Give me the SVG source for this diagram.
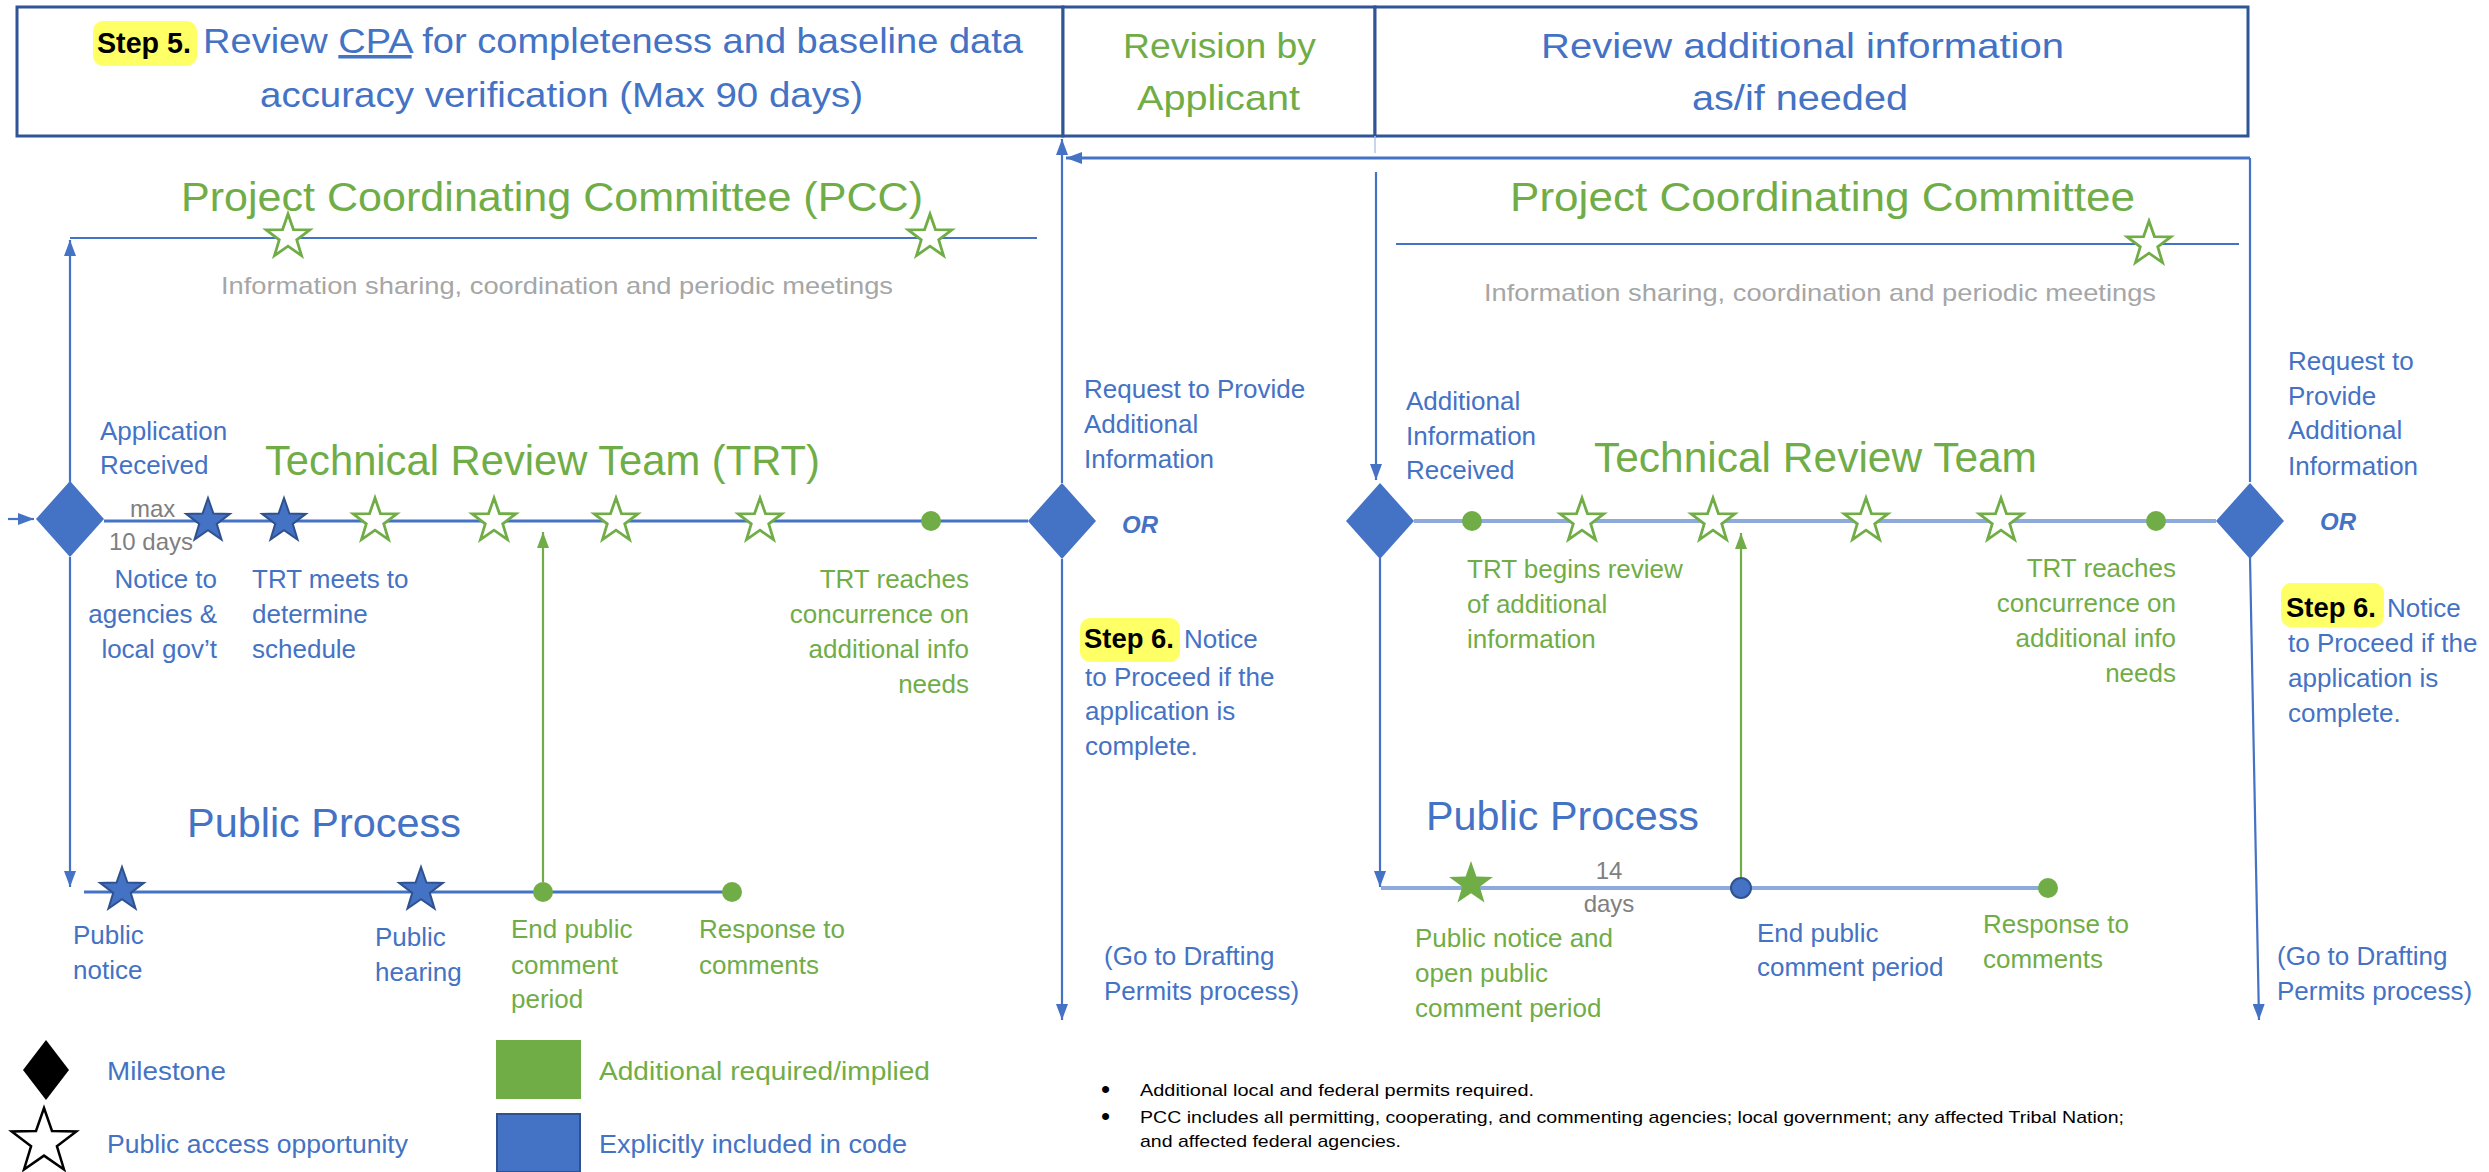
<svg xmlns="http://www.w3.org/2000/svg" width="2489" height="1172" viewBox="0 0 2489 1172">
<style>
text{font-family:"Liberation Sans",Arial,sans-serif}
.b{fill:#4472c4}.g{fill:#70ad47}.gr{fill:#a6a6a6}.dg{fill:#7f7f7f}.k{fill:#000}
.s26{font-size:26px}.s24{font-size:24px}.s35{font-size:35px}.s41{font-size:41px}
.box{fill:#fff;stroke:#2f5597;stroke-width:3}
.ln{fill:none;stroke:#4472c4;stroke-width:2.2}
.lnt{fill:none;stroke:#4472c4;stroke-width:3}
.lnl{fill:none;stroke:#8eaadb;stroke-width:4}
.lng{fill:none;stroke:#70ad47;stroke-width:2.2}
.dia{fill:#4472c4}
.sg{fill:#fff;stroke:#70ad47;stroke-width:2.8}
.sb{fill:#4472c4;stroke:#2f528f;stroke-width:2}
.dot{fill:#70ad47}
.hl{fill:#ffff66}
</style>
<defs>
<marker id="ab" markerUnits="userSpaceOnUse" markerWidth="18" markerHeight="12" refX="16" refY="6" orient="auto"><path d="M0,0 L16,6 L0,12 z" fill="#4472c4"/></marker>
<marker id="ag" markerUnits="userSpaceOnUse" markerWidth="18" markerHeight="12" refX="16" refY="6" orient="auto"><path d="M0,0 L16,6 L0,12 z" fill="#70ad47"/></marker>
<path id="star" d="M0,-23 L5.41,-7.45 L21.87,-7.11 L8.74,2.85 L13.52,18.61 L0,9.2 L-13.52,18.61 L-8.74,2.85 L-21.87,-7.11 L-5.41,-7.45 Z"/>
<path id="dm" d="M0,-38 L34,0 L0,38 L-34,0 Z"/>
</defs>

<g id="headers">
<rect class="box" x="17" y="7" width="1046" height="129"/>
<rect class="box" x="1063" y="7" width="312" height="129"/>
<rect class="box" x="1375" y="7" width="873" height="129"/>
<rect class="hl" x="93" y="21" width="104" height="45" rx="10"/>
<text class="k" x="97" y="53" font-size="30" font-weight="bold" textLength="94" lengthAdjust="spacingAndGlyphs">Step 5.</text>
<text class="b s35" x="203" y="53" textLength="820" lengthAdjust="spacingAndGlyphs">Review <tspan text-decoration="underline">CPA</tspan> for completeness and baseline data</text>
<text class="b s35" x="260" y="107" textLength="603" lengthAdjust="spacingAndGlyphs">accuracy verification (Max 90 days)</text>
<text class="g s35" x="1123" y="58" textLength="193" lengthAdjust="spacingAndGlyphs">Revision by</text>
<text class="g s35" x="1137" y="110" textLength="163" lengthAdjust="spacingAndGlyphs">Applicant</text>
<text class="b s35" x="1541" y="58" textLength="523" lengthAdjust="spacingAndGlyphs">Review additional information</text>
<text class="b s35" x="1692" y="110" textLength="216" lengthAdjust="spacingAndGlyphs">as/if needed</text>
</g>

<g id="connectors">
<path class="ln" d="M8,519 H34" marker-end="url(#ab)"/>
<path class="ln" d="M70,483 V240" marker-end="url(#ab)"/>
<path class="ln" d="M70,238 H1037"/>
<path class="ln" d="M70,557 V887" marker-end="url(#ab)"/>
<path class="lnt" d="M84,892 H732"/>
<path class="lnt" d="M104,521 H1028"/>
<path class="lng" d="M543,882 V532" marker-end="url(#ag)"/>
<path class="ln" d="M1062,483 V139" marker-end="url(#ab)"/>
<path class="lnt" d="M2250,158 H1066" marker-end="url(#ab)"/>
<path class="ln" d="M1062,559 V1020" marker-end="url(#ab)"/>
<path class="ln" d="M2250,482 V158"/>
<path class="ln" d="M1376,172 V480" marker-end="url(#ab)"/>
<path d="M1375,136 V153" stroke="#b4c7e7" stroke-width="1.5"/>
<path class="ln" d="M1380,558 V887" marker-end="url(#ab)"/>
<path class="ln" d="M1396,244 H2239"/>
<path class="lnl" d="M1414,521 H2216"/>
<path class="lnl" d="M1381,888 H2048"/>
<path class="lng" d="M1741,878 V533" marker-end="url(#ag)"/>
<path class="ln" d="M2250,558 L2259,1020" marker-end="url(#ab)"/>
</g>

<g id="milestones">
<use href="#dm" class="dia" x="70" y="519"/>
<use href="#dm" class="dia" x="1062" y="521"/>
<use href="#dm" class="dia" x="1380" y="521"/>
<use href="#dm" class="dia" x="2250" y="521"/>
</g>

<g id="pcc-left">
<text class="g s41" x="181" y="211" textLength="742" lengthAdjust="spacingAndGlyphs">Project Coordinating Committee (PCC)</text>
<use href="#star" class="sg" x="288" y="237"/>
<use href="#star" class="sg" x="930" y="237"/>
<text class="gr s24" x="221" y="294" textLength="672" lengthAdjust="spacingAndGlyphs">Information sharing, coordination and periodic meetings</text>
</g>

<g id="pcc-right">
<text class="g s41" x="1510" y="211" textLength="625" lengthAdjust="spacingAndGlyphs">Project Coordinating Committee</text>
<use href="#star" class="sg" x="2149" y="244"/>
<text class="gr s24" x="1484" y="301" textLength="672" lengthAdjust="spacingAndGlyphs">Information sharing, coordination and periodic meetings</text>
</g>

<g id="trt-left">
<text class="g" x="265" y="475" font-size="42" textLength="555" lengthAdjust="spacingAndGlyphs">Technical Review Team (TRT)</text>
<text class="b s26" x="100" y="440">Application</text>
<text class="b s26" x="100" y="474">Received</text>
<text class="dg s24" x="130" y="517">max</text>
<text class="dg s24" x="109" y="550">10 days</text>
<use href="#star" class="sb" x="208" y="521"/>
<use href="#star" class="sb" x="284" y="521"/>
<use href="#star" class="sg" x="375" y="521"/>
<use href="#star" class="sg" x="494" y="521"/>
<use href="#star" class="sg" x="616" y="521"/>
<use href="#star" class="sg" x="760" y="521"/>
<circle class="dot" cx="931" cy="521" r="10"/>
<text class="b s26" text-anchor="end"><tspan x="217" y="588">Notice to</tspan><tspan x="217" y="623">agencies &amp;</tspan><tspan x="217" y="658">local gov’t</tspan></text>
<text class="b s26"><tspan x="252" y="588">TRT meets to</tspan><tspan x="252" y="623">determine</tspan><tspan x="252" y="658">schedule</tspan></text>
<text class="g s26" text-anchor="end"><tspan x="969" y="588">TRT reaches</tspan><tspan x="969" y="623">concurrence on</tspan><tspan x="969" y="658">additional info</tspan><tspan x="969" y="693">needs</tspan></text>
</g>

<g id="decision-left">
<text class="b s26"><tspan x="1084" y="398">Request to Provide</tspan><tspan x="1084" y="433">Additional</tspan><tspan x="1084" y="468">Information</tspan></text>
<text class="b s24" x="1122" y="533" font-weight="bold" font-style="italic">OR</text>
<rect class="hl" x="1080" y="618" width="100" height="44" rx="10"/>
<text class="k" x="1084" y="648" font-size="28" font-weight="bold" textLength="90" lengthAdjust="spacingAndGlyphs">Step 6.</text>
<text class="b s26" x="1184" y="648">Notice</text>
<text class="b s26"><tspan x="1085" y="686">to Proceed if the</tspan><tspan x="1085" y="720">application is</tspan><tspan x="1085" y="755">complete.</tspan></text>
<text class="b s26"><tspan x="1104" y="965">(Go to Drafting</tspan><tspan x="1104" y="1000">Permits process)</tspan></text>
</g>

<g id="public-left">
<text class="b s41" x="187" y="837" textLength="274" lengthAdjust="spacingAndGlyphs">Public Process</text>
<use href="#star" class="sb" x="122" y="890"/>
<use href="#star" class="sb" x="421" y="890"/>
<circle class="dot" cx="543" cy="892" r="10"/>
<circle class="dot" cx="732" cy="892" r="10"/>
<text class="b s26"><tspan x="73" y="944">Public</tspan><tspan x="73" y="979">notice</tspan></text>
<text class="b s26"><tspan x="375" y="946">Public</tspan><tspan x="375" y="981">hearing</tspan></text>
<text class="g s26"><tspan x="511" y="938">End public</tspan><tspan x="511" y="974">comment</tspan><tspan x="511" y="1008">period</tspan></text>
<text class="g s26"><tspan x="699" y="938">Response to</tspan><tspan x="699" y="974">comments</tspan></text>
</g>

<g id="trt-right">
<text class="g" x="1594" y="472" font-size="42" textLength="443" lengthAdjust="spacingAndGlyphs">Technical Review Team</text>
<text class="b s26"><tspan x="1406" y="410">Additional</tspan><tspan x="1406" y="445">Information</tspan><tspan x="1406" y="479">Received</tspan></text>
<circle class="dot" cx="1472" cy="521" r="10"/>
<use href="#star" class="sg" x="1582" y="521"/>
<use href="#star" class="sg" x="1713" y="521"/>
<use href="#star" class="sg" x="1866" y="521"/>
<use href="#star" class="sg" x="2001" y="521"/>
<circle class="dot" cx="2156" cy="521" r="10"/>
<text class="g s26"><tspan x="1467" y="578">TRT begins review</tspan><tspan x="1467" y="613">of additional</tspan><tspan x="1467" y="648">information</tspan></text>
<text class="g s26" text-anchor="end"><tspan x="2176" y="577">TRT reaches</tspan><tspan x="2176" y="612">concurrence on</tspan><tspan x="2176" y="647">additional info</tspan><tspan x="2176" y="682">needs</tspan></text>
</g>

<g id="decision-right">
<text class="b s26"><tspan x="2288" y="370">Request to</tspan><tspan x="2288" y="405">Provide</tspan><tspan x="2288" y="439">Additional</tspan><tspan x="2288" y="475">Information</tspan></text>
<text class="b s24" x="2320" y="530" font-weight="bold" font-style="italic">OR</text>
<rect class="hl" x="2281" y="583" width="103" height="44" rx="10"/>
<text class="k" x="2286" y="617" font-size="28" font-weight="bold" textLength="90" lengthAdjust="spacingAndGlyphs">Step 6.</text>
<text class="b s26" x="2387" y="617">Notice</text>
<text class="b s26"><tspan x="2288" y="652">to Proceed if the</tspan><tspan x="2288" y="687">application is</tspan><tspan x="2288" y="722">complete.</tspan></text>
<text class="b s26"><tspan x="2277" y="965">(Go to Drafting</tspan><tspan x="2277" y="1000">Permits process)</tspan></text>
</g>

<g id="public-right">
<text class="b s41" x="1426" y="830" textLength="273" lengthAdjust="spacingAndGlyphs">Public Process</text>
<use href="#star" fill="#70ad47" x="1471" y="884"/>
<circle cx="1741" cy="888" r="10" fill="#4472c4" stroke="#2f528f" stroke-width="2"/>
<circle class="dot" cx="2048" cy="888" r="10"/>
<text class="dg s24" text-anchor="middle"><tspan x="1609" y="879">14</tspan><tspan x="1609" y="912">days</tspan></text>
<text class="g s26"><tspan x="1415" y="947">Public notice and</tspan><tspan x="1415" y="982">open public</tspan><tspan x="1415" y="1017">comment period</tspan></text>
<text class="b s26"><tspan x="1757" y="942">End public</tspan><tspan x="1757" y="976">comment period</tspan></text>
<text class="g s26"><tspan x="1983" y="933">Response to</tspan><tspan x="1983" y="968">comments</tspan></text>
</g>

<g id="legend">
<path d="M46,1040 L69,1070 L46,1100 L23,1070 Z" fill="#000"/>
<text class="b s26" x="107" y="1080" textLength="119" lengthAdjust="spacingAndGlyphs">Milestone</text>
<path d="M0,-34 L8,-11 L32.3,-10.5 L12.9,4.2 L20,27.5 L0,13.6 L-20,27.5 L-12.9,4.2 L-32.3,-10.5 L-8,-11 Z" transform="translate(44,1142)" fill="#fff" stroke="#000" stroke-width="2.5"/>
<text class="b s26" x="107" y="1153" textLength="301" lengthAdjust="spacingAndGlyphs">Public access opportunity</text>
<rect x="496" y="1040" width="85" height="59" fill="#70ad47"/>
<text class="g s26" x="599" y="1080" textLength="331" lengthAdjust="spacingAndGlyphs">Additional required/implied</text>
<rect x="497" y="1114" width="83" height="58" fill="#4472c4" stroke="#2f528f" stroke-width="2"/>
<text class="b s26" x="599" y="1153" textLength="308" lengthAdjust="spacingAndGlyphs">Explicitly included in code</text>
</g>

<g id="notes">
<text class="k" x="1101" y="1098" font-size="26">•</text>
<text class="k" x="1140" y="1096" font-size="17" textLength="394" lengthAdjust="spacingAndGlyphs">Additional local and federal permits required.</text>
<text class="k" x="1101" y="1125" font-size="26">•</text>
<text class="k" x="1140" y="1123" font-size="17" textLength="984" lengthAdjust="spacingAndGlyphs">PCC includes all permitting, cooperating, and commenting agencies; local government; any affected Tribal Nation;</text>
<text class="k" x="1140" y="1147" font-size="17" textLength="261" lengthAdjust="spacingAndGlyphs">and affected federal agencies.</text>
</g>
</svg>
